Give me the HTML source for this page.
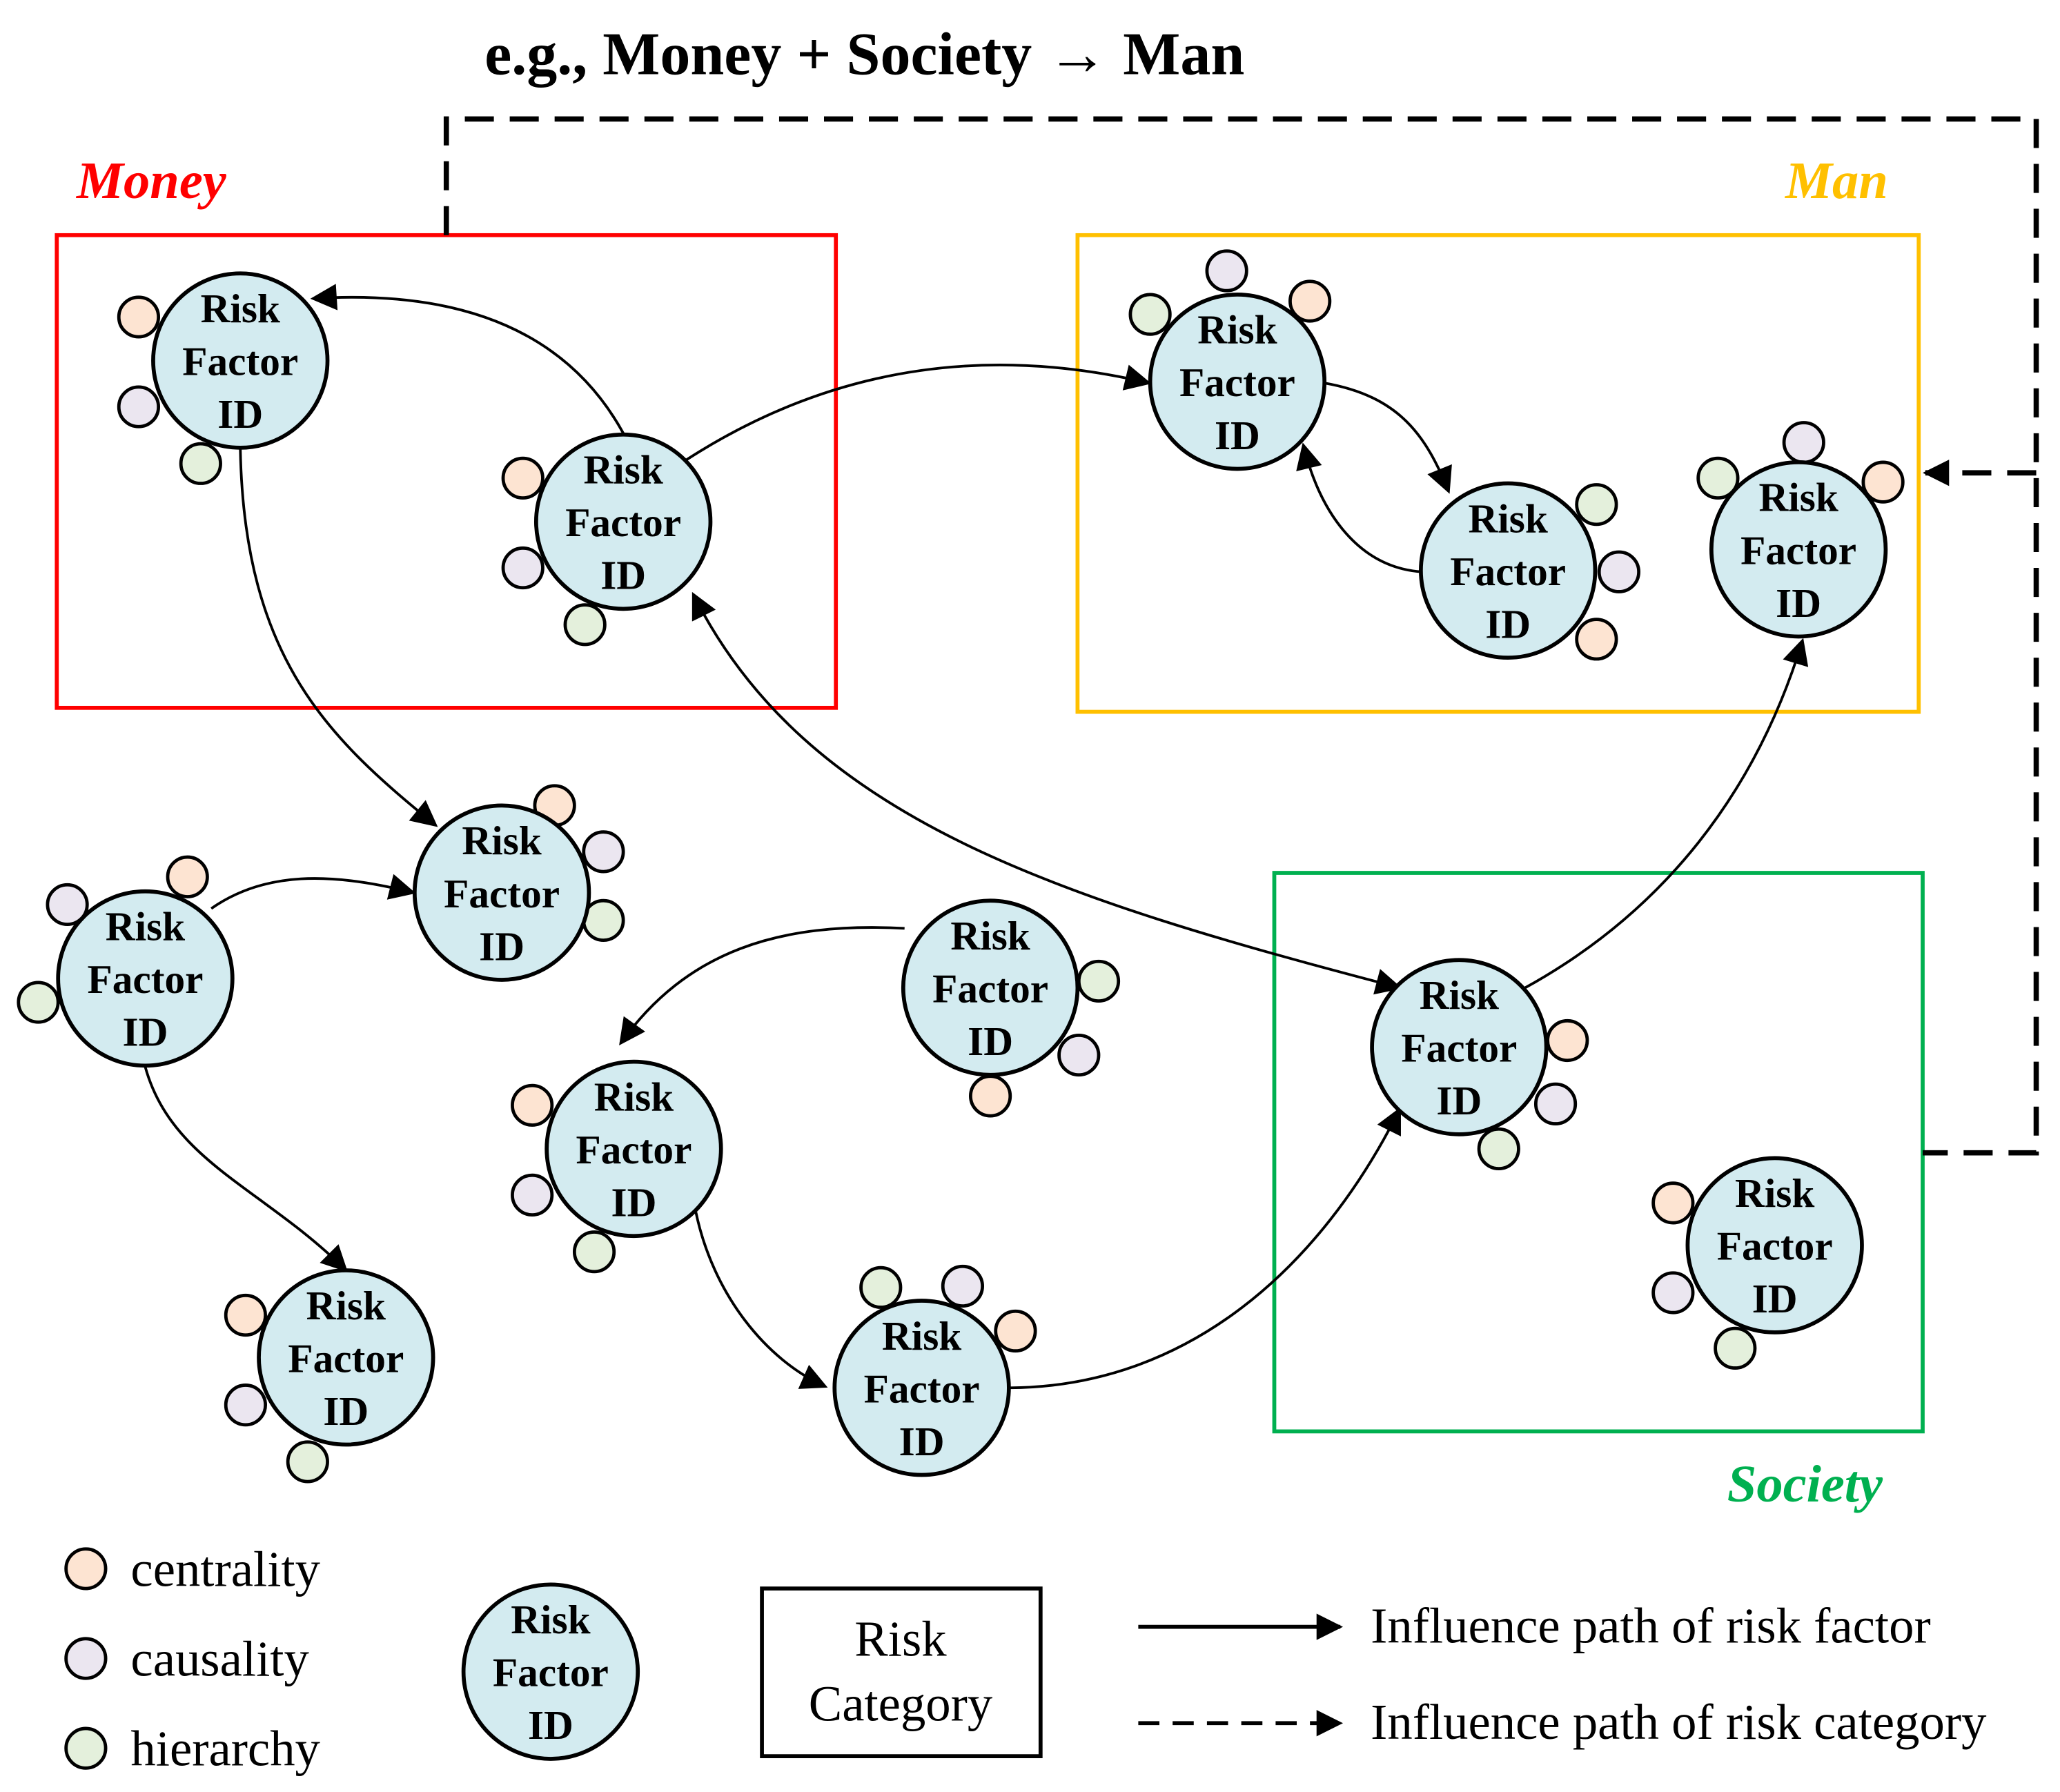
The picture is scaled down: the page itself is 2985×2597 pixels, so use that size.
<!DOCTYPE html>
<html><head><meta charset="utf-8"><style>html,body{margin:0;padding:0;background:#fff}svg{display:block}</style></head><body>
<svg width="2985" height="2597" viewBox="0 0 1560 1357" xmlns="http://www.w3.org/2000/svg" font-family="'Liberation Serif', serif">
<defs>
<marker id="ar" viewBox="0 0 10 10" refX="9" refY="5" markerWidth="7" markerHeight="7" markerUnits="userSpaceOnUse" orient="auto-start-reverse">
<path d="M0,0 L10,5 L0,10 z" fill="#000"/></marker>
<marker id="a2" viewBox="0 0 10 10" refX="9" refY="5" markerWidth="22" markerHeight="20" markerUnits="userSpaceOnUse" orient="auto-start-reverse">
<path d="M0,0 L10,5 L0,10 z" fill="#000"/></marker>
</defs>
<style>
.n{fill:#d3ebf0;stroke:#000;stroke-width:3}
.t{font-weight:bold;font-size:31px;text-anchor:middle}
.c{fill:#fde4d2;stroke:#000;stroke-width:2.5}
.v{fill:#ebe6f0;stroke:#000;stroke-width:2.5}
.h{fill:#e4f0dc;stroke:#000;stroke-width:2.5}
.e{fill:none;stroke:#000;stroke-width:2;marker-end:url(#a2)}
.lg{font-size:38px}
</style>
<text x="367" y="56" font-size="46" font-weight="bold">e.g., Money + Society → Man</text>
<text x="58" y="150" font-size="40" font-weight="bold" font-style="italic" fill="#ff0000">Money</text>
<text x="1352" y="150" font-size="40" font-weight="bold" font-style="italic" fill="#ffc000">Man</text>
<text x="1308" y="1137" font-size="40" font-weight="bold" font-style="italic" fill="#00b050">Society</text>
<rect x="43" y="178" width="590" height="358" fill="none" stroke="#ff0000" stroke-width="3"/>
<rect x="816" y="178" width="637" height="361" fill="none" stroke="#ffc000" stroke-width="3"/>
<rect x="965" y="661" width="491" height="423" fill="none" stroke="#00b050" stroke-width="3"/>
<path d="M338,178 V90 H1542 V873 H1456" fill="none" stroke="#000" stroke-width="4" stroke-dasharray="22,12"/>
<path d="M1542,358 H1458" fill="none" stroke="#000" stroke-width="4" stroke-dasharray="22,12" marker-end="url(#a2)"/>
<path class="e" d="M472,328 Q410,215 237,226"/>
<path class="e" d="M182,340 C185,500 250,560 330,625"/>
<path class="e" d="M520,348 Q680,245 870,290"/>
<path class="e" d="M1003,290 C1060,300 1080,330 1097,372"/>
<path class="e" d="M1077,433 C1030,430 1000,390 987,337"/>
<path class="e" d="M1060,748 C800,680 610,620 525,450" style="marker-start:url(#a2)"/>
<path class="e" d="M1155,748 C1260,690 1330,600 1365,485"/>
<path class="e" d="M765,1051 C900,1050 1000,960 1060,840"/>
<path class="e" d="M527,918 C540,980 580,1030 625,1050"/>
<path class="e" d="M685,703 C590,698 520,720 470,790"/>
<path class="e" d="M160,688 C200,660 250,660 313,676"/>
<path class="e" d="M110,808 C130,880 200,900 262,962"/>
<g id="nodes">
<circle class="c" cx="105" cy="240" r="15"/><circle class="v" cx="105" cy="308" r="15"/><circle class="h" cx="152" cy="351" r="15"/>
<circle class="c" cx="396" cy="362" r="15"/><circle class="v" cx="396" cy="430" r="15"/><circle class="h" cx="443" cy="473" r="15"/>
<circle class="h" cx="871" cy="238" r="15"/><circle class="v" cx="929" cy="205" r="15"/><circle class="c" cx="992" cy="228" r="15"/>
<circle class="h" cx="1209" cy="382" r="15"/><circle class="v" cx="1226" cy="433" r="15"/><circle class="c" cx="1209" cy="484" r="15"/>
<circle class="h" cx="1301" cy="362" r="15"/><circle class="v" cx="1366" cy="335" r="15"/><circle class="c" cx="1426" cy="365" r="15"/>
<circle class="c" cx="420" cy="610" r="15"/><circle class="v" cx="457" cy="645" r="15"/><circle class="h" cx="457" cy="697" r="15"/>
<circle class="v" cx="51" cy="685" r="15"/><circle class="c" cx="142" cy="664" r="15"/><circle class="h" cx="29" cy="759" r="15"/>
<circle class="c" cx="186" cy="996" r="15"/><circle class="v" cx="186" cy="1064" r="15"/><circle class="h" cx="233" cy="1107" r="15"/>
<circle class="h" cx="832" cy="743" r="15"/><circle class="v" cx="817" cy="799" r="15"/><circle class="c" cx="750" cy="830" r="15"/>
<circle class="c" cx="403" cy="837" r="15"/><circle class="v" cx="403" cy="905" r="15"/><circle class="h" cx="450" cy="948" r="15"/>
<circle class="h" cx="667" cy="975" r="15"/><circle class="v" cx="729" cy="974" r="15"/><circle class="c" cx="769" cy="1008" r="15"/>
<circle class="c" cx="1187" cy="788" r="15"/><circle class="v" cx="1178" cy="836" r="15"/><circle class="h" cx="1135" cy="870" r="15"/>
<circle class="c" cx="1267" cy="911" r="15"/><circle class="v" cx="1267" cy="979" r="15"/><circle class="h" cx="1314" cy="1021" r="15"/>
</g>
<g>
<circle class="n" cx="182" cy="273" r="66"/><text class="t" x="182" y="244">Risk</text><text class="t" x="182" y="284">Factor</text><text class="t" x="182" y="324">ID</text>
<circle class="n" cx="472" cy="395" r="66"/><text class="t" x="472" y="366">Risk</text><text class="t" x="472" y="406">Factor</text><text class="t" x="472" y="446">ID</text>
<circle class="n" cx="937" cy="289" r="66"/><text class="t" x="937" y="260">Risk</text><text class="t" x="937" y="300">Factor</text><text class="t" x="937" y="340">ID</text>
<circle class="n" cx="1142" cy="432" r="66"/><text class="t" x="1142" y="403">Risk</text><text class="t" x="1142" y="443">Factor</text><text class="t" x="1142" y="483">ID</text>
<circle class="n" cx="1362" cy="416" r="66"/><text class="t" x="1362" y="387">Risk</text><text class="t" x="1362" y="427">Factor</text><text class="t" x="1362" y="467">ID</text>
<circle class="n" cx="380" cy="676" r="66"/><text class="t" x="380" y="647">Risk</text><text class="t" x="380" y="687">Factor</text><text class="t" x="380" y="727">ID</text>
<circle class="n" cx="110" cy="741" r="66"/><text class="t" x="110" y="712">Risk</text><text class="t" x="110" y="752">Factor</text><text class="t" x="110" y="792">ID</text>
<circle class="n" cx="262" cy="1028" r="66"/><text class="t" x="262" y="999">Risk</text><text class="t" x="262" y="1039">Factor</text><text class="t" x="262" y="1079">ID</text>
<circle class="n" cx="750" cy="748" r="66"/><text class="t" x="750" y="719">Risk</text><text class="t" x="750" y="759">Factor</text><text class="t" x="750" y="799">ID</text>
<circle class="n" cx="480" cy="870" r="66"/><text class="t" x="480" y="841">Risk</text><text class="t" x="480" y="881">Factor</text><text class="t" x="480" y="921">ID</text>
<circle class="n" cx="698" cy="1051" r="66"/><text class="t" x="698" y="1022">Risk</text><text class="t" x="698" y="1062">Factor</text><text class="t" x="698" y="1102">ID</text>
<circle class="n" cx="1105" cy="793" r="66"/><text class="t" x="1105" y="764">Risk</text><text class="t" x="1105" y="804">Factor</text><text class="t" x="1105" y="844">ID</text>
<circle class="n" cx="1344" cy="943" r="66"/><text class="t" x="1344" y="914">Risk</text><text class="t" x="1344" y="954">Factor</text><text class="t" x="1344" y="994">ID</text>
<circle class="n" cx="417" cy="1266" r="66"/><text class="t" x="417" y="1237">Risk</text><text class="t" x="417" y="1277">Factor</text><text class="t" x="417" y="1317">ID</text>
</g>
<circle class="c" cx="65" cy="1188" r="15"/><text class="lg" x="99" y="1201">centrality</text>
<circle class="v" cx="65" cy="1256" r="15"/><text class="lg" x="99" y="1269">causality</text>
<circle class="h" cx="65" cy="1324" r="15"/><text class="lg" x="99" y="1337">hierarchy</text>
<rect x="577" y="1203" width="211" height="127" fill="#fff" stroke="#000" stroke-width="3"/>
<text class="lg" x="682" y="1254" text-anchor="middle">Risk</text>
<text class="lg" x="682" y="1303" text-anchor="middle">Category</text>
<path d="M862,1232 H1015" stroke="#000" stroke-width="3" marker-end="url(#a2)"/>
<path d="M862,1305 H1015" stroke="#000" stroke-width="3" stroke-dasharray="16,10" marker-end="url(#a2)"/>
<text class="lg" x="1038" y="1244">Influence path of risk factor</text>
<text class="lg" x="1038" y="1317">Influence path of risk category</text>
</svg>
</body></html>
